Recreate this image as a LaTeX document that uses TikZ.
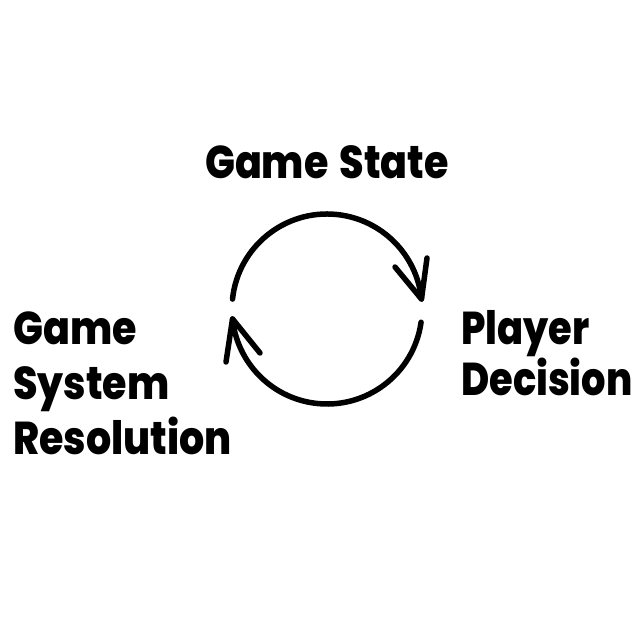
\documentclass[tikz,border=0pt]{standalone}
\usepackage{fontspec}
\setmainfont{Poppins}[BoldFont={* ExtraBold}, WordSpace=1.5]
\usetikzlibrary{calc}
\begin{document}
\begin{tikzpicture}[x=1pt,y=1pt,
  lbl/.style={inner sep=0pt, font=\fontsize{46}{55}\selectfont\bfseries, align=left, xscale=0.86, transform shape},
  cyc/.style={line width=5.5pt, line cap=round, line join=round, black}]
\useasboundingbox[fill=white] (0,0) rectangle (640,640);
\coordinate (c) at (327,331);
\node[lbl, anchor=base] (state) at (327,461) {Game State};
\node[lbl, anchor=base west] (res) at (13,185) {Game\\System\\Resolution};
\node[lbl, anchor=base west, xscale=0.97, font=\fontsize{46}{51}\selectfont\bfseries] (dec) at (461,244) {Player\\Decision};
% top arc
\coordinate (t0) at ($(c)+(174:95)$);
\coordinate (t1) at ($(c)+(6:95)$);
\draw[cyc] (t0) arc[start angle=174, end angle=6, radius=95];
\coordinate (ta) at (395,373);
\coordinate (tb) at (427,382);
\draw[cyc] (ta) -- (t1) -- (tb);
% bottom arc
\coordinate (b0) at ($(c)+(-8:95)$);
\coordinate (b1) at ($(c)+(-174:95)$);
\draw[cyc] (b0) arc[start angle=-8, end angle=-174, radius=95];
\coordinate (ba) at (226,278);
\coordinate (bb) at (260,287);
\draw[cyc] (ba) -- (b1) -- (bb);
\end{tikzpicture}
\end{document}
